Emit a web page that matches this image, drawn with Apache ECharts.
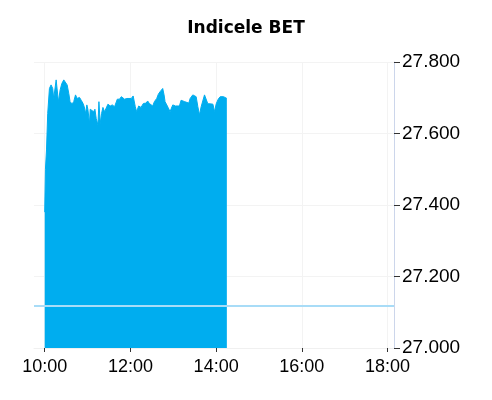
<!DOCTYPE html>
<html><head><meta charset="utf-8">
<script src="https://cdn.jsdelivr.net/npm/echarts@6/dist/echarts.min.js"></script>
<style>html,body{margin:0;padding:0;background:#fff}#c{width:492px;height:400px}</style>
</head><body><div id="c"></div>
<script>
const title = 'Indicele BET';
// minutes after 10:00 and index values
const minutes = [0,1,2.5,4.2,6.6,8.9,11.2,12.6,14.5,16.0,18.3,19.2,21.6,24.0,26.7,29.0,31.4,33.7,35.5,38.3,40.6,43.1,45.4,48.7,51.1,53.4,55.3,57.2,59.0,60.4,62.7,63.7,66.5,68.4,70.3,72.1,74.5,75.9,77.7,79.6,81.5,83.8,86.1,88.5,91.7,94.6,97.8,100.2,101.6,104.8,107.2,109.5,111.8,115.1,117.9,121.2,123.8,126.8,128.7,131.5,134.8,138.1,141.9,144.1,146.5,147.9,151.2,153.5,156.8,159.1,161.5,164.2,165.2,167.1,168.5,170.8,172.7,175.5,177.4,179.3,181.6,183.0,185.3,188.6,190.9,193.2,196.1,198.9,201.7,203.6,205.5,207.3,209.7,212.0,214.4,216.7,219.0,221.4,223.7,226.1,228.4,231.7,235.5,237.7,240.1,242.9,245.7,248.0,250.4,255.0];
const values = [27380,27500,27554,27656,27726,27736,27726,27698,27693,27750,27750,27689,27722,27740,27750,27745,27736,27712,27689,27683,27689,27708,27698,27701,27693,27685,27675,27656,27680,27668,27628,27668,27668,27661,27668,27642,27624,27689,27628,27656,27673,27661,27661,27682,27677,27680,27675,27680,27696,27696,27703,27707,27696,27698,27696,27698,27705,27675,27661,27677,27673,27684,27685,27691,27684,27680,27677,27689,27698,27710,27717,27722,27726,27708,27689,27684,27673,27661,27671,27680,27684,27677,27680,27677,27693,27698,27689,27687,27685,27698,27693,27708,27708,27703,27675,27652,27675,27677,27708,27708,27683,27683,27682,27661,27683,27696,27703,27707,27703,27698];
const prevClose = 27117;
const yTicks = [27000,27200,27400,27600,27800];
const xTicks = [0,120,240,360,480];            // minutes after 10:00
const xTickLabels = ['10:00','12:00','14:00','16:00','18:00'];
const xMin = -15, xMax = 489;

const data = minutes.map((m,i)=>[m, values[i]]);
const fmtNum = v => String(v).replace(/\B(?=(\d{3})+(?!\d))/g,'.');
const font = 'Liberation Sans, Arial, sans-serif';

const chart = echarts.init(document.getElementById('c'));
chart.setOption({
  animation:false,
  title:{text:title,left:'center',top:15,textStyle:{fontFamily:'DejaVu Sans',fontSize:17,fontWeight:'bold',color:'#000'}},
  grid:{left:34,right:98,top:62,bottom:52,containLabel:false},
  xAxis:{type:'value',min:xMin,max:xMax,
    axisLine:{show:true,onZero:false,lineStyle:{color:'#f0f0f0'}},
    axisTick:{show:true,length:4,lineStyle:{color:'#333'},customValues:xTicks},
    axisLabel:{fontFamily:font,fontSize:18,color:'#000',margin:10,customValues:xTicks,
      formatter:v=>xTickLabels[xTicks.indexOf(v)] || ''},
    splitLine:{show:false}
  },
  yAxis:{type:'value',position:'right',min:yTicks[0],max:yTicks[yTicks.length-1],interval:200,
    axisLine:{show:true,onZero:false,lineStyle:{color:'#ccd6eb'}},
    axisTick:{show:true,length:6,lineStyle:{color:'#333'}},
    axisLabel:{fontFamily:font,fontSize:19,color:'#000',margin:8,formatter:fmtNum},
    splitLine:{show:true,lineStyle:{color:'#f3f3f3'}}
  },
  series:[
    {type:'line',data:[],silent:true,z:0,
      markLine:{silent:true,symbol:'none',label:{show:false},z:0,
        lineStyle:{color:'#f3f3f3',width:1,type:'solid'},
        data:xTicks.map(v=>({xAxis:v}))}
    },
    {type:'line',data:data,showSymbol:false,z:3,smooth:false,
    lineStyle:{color:'#00adef',width:1},
    areaStyle:{color:'#00adef',opacity:1,origin:'start'},
    markLine:{silent:true,symbol:'none',label:{show:false},z:6,
      lineStyle:{color:'#a8dcf7',width:2,type:'solid'},
      data:[{yAxis:prevClose}]}
  }]
});
</script></body></html>
